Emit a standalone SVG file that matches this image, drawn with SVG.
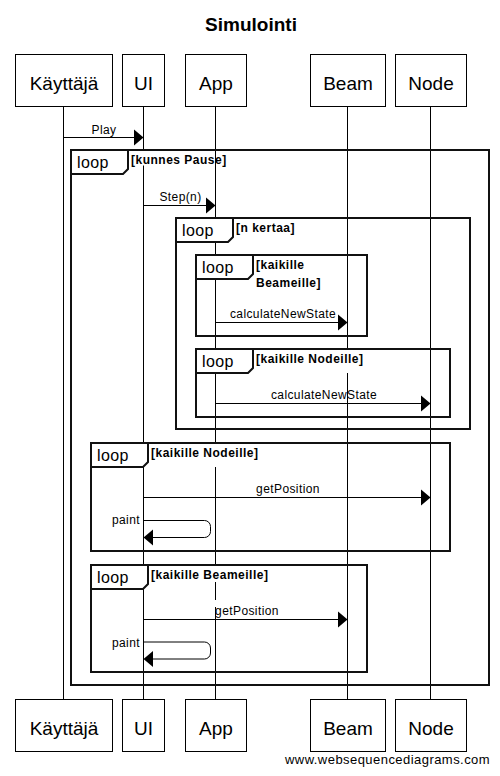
<svg xmlns="http://www.w3.org/2000/svg" width="500" height="776" viewBox="0 0 500 776">
<defs>
<style>
.box{fill:#fff;stroke:#000;stroke-width:1}
.life{stroke:#000;stroke-width:1;fill:none}
.head{font-family:"Liberation Sans",Arial,sans-serif;font-size:19px;text-anchor:middle;fill:#000}
.frame{fill:none;stroke:#111;stroke-width:2}
.tab{fill:#fff;stroke:#111;stroke-width:2}
.loop{font-family:"Liberation Sans",Arial,sans-serif;font-size:16px;letter-spacing:0.4px;fill:#000}
.cond{font-family:"Liberation Sans",Arial,sans-serif;font-size:12px;font-weight:bold;letter-spacing:0.5px;fill:#000}
.msg{font-family:"Liberation Sans",Arial,sans-serif;font-size:12px;letter-spacing:0.4px;fill:#000;text-anchor:middle}
.line{stroke:#000;stroke-width:1;fill:none}
.ah{fill:#000}
.bg{fill:#fff}
</style>
</defs>
<rect width="500" height="776" fill="#fff"/>
<text x="251" y="31" font-family="'Liberation Sans',Arial,sans-serif" font-size="19" font-weight="bold" text-anchor="middle">Simulointi</text>

<g id="lifelines">
<line class="life" x1="63.5" y1="106.5" x2="63.5" y2="699.5"/>
<line class="life" x1="143.5" y1="106.5" x2="143.5" y2="699.5"/>
<line class="life" x1="215.5" y1="106.5" x2="215.5" y2="699.5"/>
<line class="life" x1="347.5" y1="106.5" x2="347.5" y2="699.5"/>
<line class="life" x1="430.5" y1="106.5" x2="430.5" y2="699.5"/>
</g>

<g id="label-backgrounds">
<rect class="bg" x="130" y="151" width="37" height="14.5"/>
<rect class="bg" x="254" y="350" width="110" height="23"/>
<rect class="bg" x="149" y="444" width="109" height="23"/>
<rect class="bg" x="149" y="566" width="121" height="16"/>
<rect class="bg" x="213" y="600" width="6" height="7"/>
</g>

<g id="kayttaja">
<rect class="box" x="15.5" y="54.5" width="97" height="52"/>
<text class="head" x="64" y="90">Käyttäjä</text>
<rect class="box" x="15.5" y="699.5" width="97" height="52"/>
<text class="head" x="64" y="735">Käyttäjä</text>
</g>
<g id="ui">
<rect class="box" x="122.5" y="54.5" width="42" height="52"/>
<text class="head" x="143.5" y="90">UI</text>
<rect class="box" x="122.5" y="699.5" width="42" height="52"/>
<text class="head" x="143.5" y="735">UI</text>
</g>
<g id="app">
<rect class="box" x="185.5" y="54.5" width="61" height="52"/>
<text class="head" x="216" y="90">App</text>
<rect class="box" x="185.5" y="699.5" width="61" height="52"/>
<text class="head" x="216" y="735">App</text>
</g>
<g id="beam">
<rect class="box" x="310.5" y="54.5" width="75" height="52"/>
<text class="head" x="348" y="90">Beam</text>
<rect class="box" x="310.5" y="699.5" width="75" height="52"/>
<text class="head" x="348" y="735">Beam</text>
</g>
<g id="node">
<rect class="box" x="395.5" y="54.5" width="71" height="52"/>
<text class="head" x="431" y="90">Node</text>
<rect class="box" x="395.5" y="699.5" width="71" height="52"/>
<text class="head" x="431" y="735">Node</text>
</g>

<g id="loop-kunnes-pause">
<rect class="frame" x="71" y="150" width="418" height="535"/>
<path class="tab" d="M71,150 h57 v19 l-5,5 H71 Z"/>
<text class="loop" x="77" y="168.3">loop</text>
<text class="cond" x="131" y="163.5">[kunnes Pause]</text>
</g>
<g id="loop-n-kertaa">
<rect class="frame" x="176" y="218" width="294" height="211"/>
<path class="tab" d="M176,218 h57 v19 l-5,5 H176 Z"/>
<text class="loop" x="182" y="236.3">loop</text>
<text class="cond" x="236" y="231.5">[n kertaa]</text>
</g>
<g id="loop-kaikille-beameille-1">
<rect class="frame" x="196" y="255" width="171" height="81"/>
<path class="tab" d="M196,255 h57 v19 l-5,5 H196 Z"/>
<text class="loop" x="202" y="273.3">loop</text>
<text class="cond" x="256" y="268.5">[kaikille</text>
<text class="cond" x="256" y="286.5">Beameille]</text>
</g>
<g id="loop-kaikille-nodeille-1">
<rect class="frame" x="196" y="349" width="254" height="68"/>
<path class="tab" d="M196,349 h57 v19 l-5,5 H196 Z"/>
<text class="loop" x="202" y="367.3">loop</text>
<text class="cond" x="256" y="362.5">[kaikille Nodeille]</text>
</g>
<g id="loop-kaikille-nodeille-2">
<rect class="frame" x="91" y="443" width="359" height="108"/>
<path class="tab" d="M91,443 h57 v19 l-5,5 H91 Z"/>
<text class="loop" x="97" y="461.3">loop</text>
<text class="cond" x="151" y="456.5">[kaikille Nodeille]</text>
</g>
<g id="loop-kaikille-beameille-2">
<rect class="frame" x="91" y="565" width="276" height="107"/>
<path class="tab" d="M91,565 h57 v19 l-5,5 H91 Z"/>
<text class="loop" x="97" y="583.3">loop</text>
<text class="cond" x="151" y="579">[kaikille Beameille]</text>
</g>

<g id="connectors">
<line class="line" x1="63.5" y1="137.5" x2="134" y2="137.5"/>
<polygon class="ah" points="143.5,137.5 134,129.5 134,145.5"/>
<text class="msg" x="104" y="134">Play</text>

<line class="line" x1="143.5" y1="205.5" x2="206" y2="205.5"/>
<polygon class="ah" points="215.5,205.5 206,197.5 206,213.5"/>
<text class="msg" x="180.5" y="201">Step(n)</text>

<line class="line" x1="215.5" y1="322.5" x2="338" y2="322.5"/>
<polygon class="ah" points="347.5,322.5 338,314.5 338,330.5"/>
<text class="msg" x="283" y="318.3">calculateNewState</text>

<line class="line" x1="215.5" y1="403.5" x2="421" y2="403.5"/>
<polygon class="ah" points="430.5,403.5 421,395.5 421,411.5"/>
<text class="msg" x="324" y="399.3">calculateNewState</text>

<line class="line" x1="143.5" y1="497.5" x2="421" y2="497.5"/>
<polygon class="ah" points="430.5,497.5 421,489.5 421,505.5"/>
<text class="msg" x="288" y="493.3">getPosition</text>

<path class="line" d="M143.5,520.5 H204.5 A6,6 0 0 1 210.5,526.5 V531.5 A6,6 0 0 1 204.5,537.5 H153"/>
<polygon class="ah" points="143.5,537.5 153,529.5 153,545.5"/>
<text class="msg" x="140" y="524" style="text-anchor:end">paint</text>

<line class="line" x1="143.5" y1="619.5" x2="338" y2="619.5"/>
<polygon class="ah" points="347.5,619.5 338,611.5 338,627.5"/>
<text class="msg" x="247" y="615">getPosition</text>

<path class="line" d="M143.5,642 H204.5 A6,6 0 0 1 210.5,648 V653 A6,6 0 0 1 204.5,659 H153"/>
<polygon class="ah" points="143.5,659 153,651 153,667"/>
<text class="msg" x="140" y="646.5" style="text-anchor:end">paint</text>
</g>

<text x="285" y="764" font-family="'Liberation Sans',Arial,sans-serif" font-size="13" letter-spacing="0.45">www.websequencediagrams.com</text>
</svg>
